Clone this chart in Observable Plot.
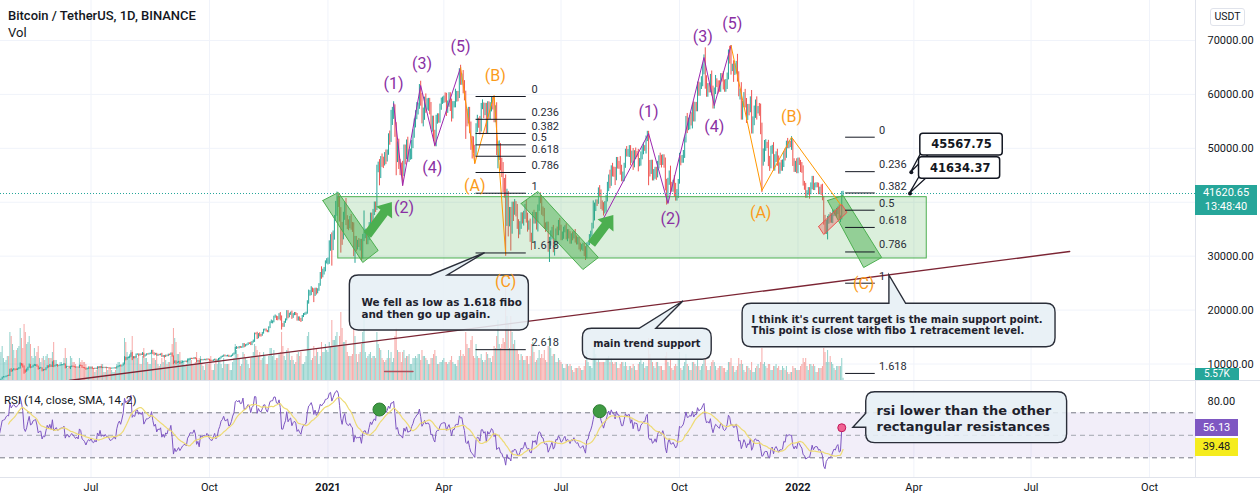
<!DOCTYPE html>
<html>
<head>
<meta charset="utf-8">
<script src="https://cdn.jsdelivr.net/npm/d3@7"></script>
<script src="https://cdn.jsdelivr.net/npm/@observablehq/plot@0.6"></script>
<style>
  html, body { margin: 0; padding: 0; background: #fff; }
  #chart { position: relative; width: 1260px; height: 504px; overflow: hidden; background: #fff;
           font-family: Roboto, "Noto Sans", sans-serif; color: #131722; }
  #chart svg { position: absolute; left: 0; }
  .h { position: absolute; white-space: nowrap; }
  .sep { position: absolute; background: #e0e3eb; }
</style>
</head>
<body>
<div id="chart"></div>
<script>
// ======================= DATA =======================
// Daily BINANCE BTC/USDT candles, first day below (days before the visible range warm up the RSI).
const firstDay = "2020-04-01";
// closes in thousand USDT
const close2020 = [
 6.64,6.81,6.74,6.87,6.78,7.34,7.20,7.37,7.30,6.87,6.91,6.92,6.84,6.87,6.64,7.12,7.10,7.26,7.13,6.84,6.85,7.12,7.48,7.51,7.54,7.69,7.77,7.76,8.78,8.62,
 8.83,8.97,8.91,8.89,9.03,9.15,9.99,9.81,9.54,8.72,8.56,8.81,9.31,9.79,9.31,9.38,9.67,9.73,9.78,9.51,9.06,9.17,9.18,8.72,8.90,8.84,9.20,9.58,9.43,9.70,9.45,
 10.20,9.52,9.67,9.79,9.62,9.67,9.75,9.78,9.78,9.89,9.28,9.47,9.47,9.34,9.43,9.52,9.46,9.38,9.30,9.36,9.28,9.69,9.63,9.29,9.24,9.16,9.01,9.12,9.19,9.14,
 9.23,9.09,9.06,9.13,9.07,9.34,9.25,9.43,9.24,9.29,9.24,9.30,9.24,9.25,9.19,9.13,9.15,9.17,9.21,9.16,9.39,9.53,9.61,9.55,9.71,9.93,11.03,10.91,11.10,11.11,11.35,
 11.80,11.07,11.23,11.19,11.74,11.76,11.60,11.75,11.68,11.88,11.41,11.58,11.78,11.77,11.86,11.91,12.29,11.97,11.74,11.86,11.52,11.68,11.65,11.75,11.33,11.47,11.32,11.53,11.48,11.71,11.66,
 11.92,11.39,10.17,10.47,10.17,10.26,10.38,10.13,10.23,10.35,10.40,10.44,10.33,10.68,10.79,10.95,10.94,10.93,11.08,10.92,10.42,10.54,10.24,10.74,10.69,10.73,10.77,10.70,10.84,10.78,
 10.62,10.57,10.55,10.67,10.79,10.60,10.67,10.92,11.06,11.30,11.38,11.55,11.43,11.43,11.51,11.32,11.36,11.50,11.75,11.92,12.82,12.97,12.93,13.12,13.03,13.07,13.65,13.28,13.46,13.56,13.80,
 13.76,13.55,14.02,14.15,15.59,15.58,14.83,15.48,15.33,15.30,15.70,16.28,16.32,16.07,15.96,16.73,17.66,17.80,17.82,18.68,18.71,18.42,18.37,19.15,18.73,17.15,17.14,17.72,18.18,19.70,
 18.76,19.21,19.42,18.65,19.15,19.36,19.17,18.32,18.55,18.26,18.06,18.80,19.17,19.27,19.43,21.31,22.80,23.14,23.86,23.48,22.75,23.82,23.25,23.72,24.66,26.44,26.25,27.04,27.36,28.84,28.95];
const close2021 = [
 29.37,32.20,33.00,31.99,33.99,36.82,39.37,40.67,40.24,38.24,35.54,34.05,37.39,39.14,36.77,36.02,35.79,36.63,35.89,35.47,30.83,33.00,32.10,32.29,32.25,32.47,30.36,33.37,34.27,34.32,33.11,
 33.54,35.51,37.62,36.94,38.29,39.26,38.87,46.40,46.51,44.84,47.99,47.41,47.19,48.72,47.94,49.20,52.17,51.61,55.92,55.92,57.49,54.21,48.82,49.71,47.02,46.34,46.20,45.24,
 49.62,48.38,50.54,48.37,48.76,48.88,50.97,52.39,54.88,55.86,57.33,57.81,61.22,59.00,55.65,56.90,58.91,57.65,58.03,58.10,57.35,54.08,54.34,52.30,51.31,55.03,55.85,55.78,57.63,58.73,58.92,
 59.10,59.03,57.06,58.20,59.13,57.99,56.00,58.08,58.09,59.77,59.96,59.83,63.50,62.95,63.16,61.33,60.00,56.15,55.66,56.47,53.80,51.70,51.09,50.05,49.00,54.02,55.03,54.82,53.56,57.75,
 57.83,56.63,57.20,53.24,57.49,56.46,57.33,58.86,58.28,55.86,56.75,49.15,49.72,49.88,46.76,46.43,43.54,42.91,37.00,40.78,37.30,37.53,34.77,38.85,38.35,39.32,38.44,35.69,34.62,35.68,37.29,
 36.69,37.57,39.19,36.87,35.52,35.80,33.58,33.38,37.39,36.69,37.34,35.55,39.10,40.52,40.14,38.35,38.09,35.82,35.48,35.60,31.68,32.51,33.68,34.66,31.59,32.28,34.70,34.49,35.91,35.05,
 33.54,33.80,34.67,35.29,33.69,34.23,33.86,32.88,33.81,33.52,34.26,33.09,32.73,32.82,31.78,31.42,31.53,31.78,30.84,29.79,32.14,32.29,33.66,34.29,35.40,37.27,39.46,40.03,40.02,42.24,41.46,
 39.85,39.15,38.21,39.72,40.87,42.83,44.61,43.83,46.29,45.60,45.55,44.43,47.83,47.10,47.05,45.94,44.69,44.71,46.76,49.34,48.87,49.28,49.51,47.71,48.99,46.85,49.07,48.90,48.83,47.05,47.17,
 48.85,49.30,50.00,49.94,51.77,52.63,46.81,46.08,46.40,44.85,45.16,46.02,44.96,47.11,48.14,47.76,47.30,48.31,47.26,42.96,40.69,43.57,44.90,42.84,42.72,43.21,42.24,41.03,41.52,43.79,
 48.12,47.71,48.20,49.11,51.51,55.36,53.81,53.97,54.96,54.69,57.48,56.01,57.37,57.35,61.67,60.88,61.53,62.04,64.28,66.00,62.21,60.69,61.39,60.89,63.08,60.33,58.46,60.59,62.27,61.89,61.30,
 61.00,63.23,62.94,61.44,61.01,61.53,63.33,67.57,66.97,64.88,64.95,64.16,64.40,65.47,63.56,60.16,60.37,56.94,58.12,59.74,58.66,56.30,57.57,57.17,58.96,53.73,54.74,57.27,57.81,56.95,
 57.18,56.51,53.60,49.15,49.40,50.44,50.59,50.47,47.55,47.14,49.39,50.05,46.70,48.34,48.86,47.63,46.13,46.83,46.68,46.91,48.94,48.63,50.82,50.43,50.80,50.64,50.64,47.59,46.46,47.12,46.22];
const close2022 = [
 47.72,47.29,46.43,45.83,43.43,43.08,41.56,41.73,41.87,41.82,42.74,43.92,42.59,43.10,43.18,43.11,42.25,42.37,41.67,40.68,36.48,35.07,36.28,36.65,36.95,36.84,37.14,37.71,38.17,37.92,38.48,
 38.74,36.95,37.08,41.57,41.62];
// upper / lower wick, % beyond the candle body
const wickUp2020 = [
 2,1,2,1,2,1,3,1,1,2,1,1,2,1,2,1,2,1,1,2,1,1,1,2,1,1,1,2,3,4,
 1,2,1,2,1,2,2,1,2,1,2,3,1,2,1,1,1,2,1,1,1,1,2,1,1,1,1,1,1,2,1,
 2,4,1,1,1,1,1,1,1,2,1,1,1,1,1,1,1,1,1,1,1,1,1,1,1,1,1,1,1,1,
 1,1,1,1,1,1,1,1,1,1,1,1,1,1,1,1,1,1,1,1,1,1,1,1,1,1,3,2,1,1,1,
 2,3,1,1,1,1,1,1,1,2,1,1,1,1,1,1,2,2,1,1,1,1,1,1,2,1,1,1,1,1,1,
 1,1,1,1,1,1,1,1,1,1,1,1,1,1,1,1,1,1,1,1,1,1,1,1,1,1,1,1,1,1,
 1,1,1,1,1,1,1,1,1,1,1,1,1,1,1,1,1,1,1,1,2,2,1,1,1,1,1,1,1,1,1,
 1,2,1,2,1,1,2,1,2,1,1,1,1,1,1,1,1,2,1,1,2,1,2,1,2,1,2,1,1,1,
 1,1,1,2,1,1,1,1,1,1,1,1,1,1,1,2,4,2,2,1,2,1,1,1,1,2,6,2,2,1,2];
const wickUp2021 = [
 1,2,3,4,2,2,2,3,2,2,2,2,2,2,4,2,2,2,3,1,2,2,2,2,3,2,2,2,12,2,2,
 2,2,1,1,1,2,2,1,2,3,1,2,2,1,2,1,1,2,2,3,2,1,1,3,4,2,2,3,
 2,2,2,3,2,2,1,2,1,2,2,1,1,2,2,1,1,2,2,2,2,2,3,3,2,2,1,1,1,1,1,
 1,2,2,1,2,2,2,1,1,2,1,1,2,3,1,2,2,1,2,2,2,2,1,2,1,1,2,1,2,1,
 2,1,2,2,2,2,2,1,1,2,2,3,3,3,2,3,2,2,5,4,3,4,4,3,3,3,2,3,3,2,2,
 2,2,1,3,3,2,3,2,2,3,2,2,1,1,3,2,2,2,1,2,2,3,3,2,3,2,1,2,2,3,
 2,2,2,1,2,2,2,2,1,2,1,2,2,2,2,2,2,2,2,3,1,1,1,1,2,8,1,1,1,1,2,
 2,1,2,1,1,2,1,3,1,2,2,2,1,1,1,3,2,2,1,1,2,1,2,2,1,2,1,2,1,2,2,
 1,2,2,1,1,1,1,2,3,3,2,1,1,1,1,2,2,1,1,2,3,2,2,4,2,2,4,3,2,1,
 2,1,1,1,1,1,2,3,2,3,1,2,2,2,1,1,1,2,2,2,4,2,1,1,1,2,2,1,2,1,1,
 2,1,1,2,2,2,1,1,2,3,1,2,2,1,3,1,1,3,1,1,2,1,1,1,1,3,2,1,2,3,
 1,2,3,2,1,2,2,1,2,2,2,1,2,1,1,2,2,1,2,2,1,2,1,2,1,1,3,2,1,1,2];
const wickUp2022 = [
 1,1,1,2,2,1,1,1,2,2,2,2,2,1,1,1,1,1,2,4,1,3,1,2,2,3,2,2,1,1,1,
 1,2,1,1,1];
const wickDn2020 = [
 1,2,1,2,1,1,2,1,2,1,1,2,2,1,1,1,2,1,1,1,2,1,1,1,1,1,1,1,1,2,
 1,1,2,1,1,1,1,2,3,7,3,1,1,1,2,1,1,1,2,1,2,1,1,2,1,1,1,1,2,1,1,
 1,2,1,1,2,1,1,1,1,1,2,1,1,2,4,1,1,1,1,1,1,1,1,1,1,1,2,1,1,1,
 1,1,1,1,1,1,1,1,1,1,1,1,1,1,1,1,1,1,1,1,1,1,1,1,1,1,1,3,2,1,1,
 1,4,1,2,1,1,2,1,1,1,3,1,1,1,1,1,1,2,2,1,1,1,1,1,1,1,2,1,1,1,1,
 1,1,3,1,3,1,1,2,1,1,1,1,1,1,1,1,1,1,1,1,2,1,1,1,1,1,1,1,1,1,
 1,1,1,1,1,1,1,1,1,1,1,1,1,1,1,1,1,1,1,1,1,1,1,1,1,1,1,2,1,1,1,
 1,1,1,1,1,1,2,1,2,2,1,1,1,1,1,1,1,1,2,1,1,2,2,1,4,5,2,2,1,1,
 2,1,1,2,1,1,1,2,2,2,2,1,1,1,1,1,1,1,2,1,6,1,2,1,1,1,2,1,2,1,1];
const wickDn2021 = [
 2,3,4,12,3,3,1,5,3,5,14,6,3,2,3,3,3,2,3,3,3,7,4,3,2,4,4,3,2,3,3,
 3,2,1,2,3,2,2,1,2,4,1,2,2,1,2,1,1,2,1,3,1,4,8,3,2,3,3,5,
 1,3,1,2,2,2,2,2,1,2,1,2,1,2,2,3,3,2,1,2,2,1,2,2,2,2,1,2,2,1,1,
 1,1,2,1,1,2,2,1,1,1,2,2,1,2,2,2,2,8,3,2,2,4,6,2,4,1,2,2,2,1,
 1,2,1,1,1,2,2,1,2,2,2,1,6,4,2,4,4,5,19,4,10,5,11,2,5,2,3,2,4,2,2,
 2,3,2,2,3,2,3,7,3,2,2,2,3,2,1,2,2,2,3,2,3,9,2,2,3,5,2,2,2,1,
 2,2,2,1,2,3,2,2,2,2,1,2,2,2,2,2,1,2,3,2,1,1,1,1,2,1,2,3,2,1,1,
 3,2,2,1,4,2,2,3,2,2,2,3,1,2,2,2,2,2,2,1,1,1,2,2,1,2,1,2,1,3,1,
 1,2,1,1,2,1,8,3,2,2,2,2,2,1,2,2,2,1,2,2,3,2,1,3,2,2,3,2,2,2,
 1,2,1,2,2,1,2,1,1,1,2,2,2,1,1,2,2,1,1,1,2,2,2,1,1,1,2,2,1,1,2,
 1,1,1,1,1,1,1,1,2,2,1,3,1,1,2,1,2,3,3,1,2,3,2,2,1,2,2,1,3,3,
 1,1,2,15,5,4,2,1,2,3,2,1,2,2,2,2,2,2,2,2,1,2,1,1,1,1,2,2,2,2,2];
const wickDn2022 = [
 2,1,2,1,1,2,2,2,1,3,1,1,1,1,1,1,2,2,1,1,2,3,3,9,2,2,2,3,1,1,2,
 2,1,2,1,1];
// volume in thousand BTC
const vol2020 = [
 80,75,90,70,55,100,85,75,70,85,50,55,75,60,70,95,70,60,45,65,60,70,85,55,45,50,60,60,120,110,
 90,75,55,75,80,85,130,105,80,140,120,90,95,110,90,60,55,80,60,70,85,55,45,55,60,50,60,65,55,55,55,
 70,95,50,50,40,35,45,45,40,55,80,55,30,30,60,55,45,45,40,30,30,55,45,50,45,45,40,30,35,35,
 35,35,30,20,25,35,35,35,40,40,20,20,30,25,30,30,25,20,20,25,40,45,45,40,35,45,105,95,70,60,65,
 75,110,60,60,60,55,60,40,40,60,80,55,55,45,40,40,65,55,55,50,60,40,35,40,55,45,60,50,40,45,45,
 60,90,130,105,95,65,65,70,50,50,45,35,40,55,55,55,50,40,40,45,70,45,55,60,40,35,25,40,40,40,
 50,60,25,25,40,50,40,55,55,40,30,55,40,40,40,40,25,25,45,55,90,75,65,55,35,40,70,65,55,50,40,
 30,55,60,70,90,85,75,60,70,50,55,70,60,40,40,60,80,80,60,75,50,55,55,65,70,120,85,60,50,75,
 80,70,50,60,50,40,45,65,70,60,70,40,40,45,60,110,120,75,50,55,85,60,80,70,40,60,95,70,70,90,75];
const vol2021 = [
 70,95,85,150,100,100,110,120,85,110,170,130,95,95,100,70,60,60,60,65,130,110,65,45,65,70,90,120,170,70,55,
 60,65,70,55,60,60,55,120,90,80,75,55,50,45,50,55,75,55,70,45,55,110,130,75,70,70,45,70,
 75,55,60,60,65,40,40,55,55,60,55,65,65,50,75,60,60,55,50,40,40,55,55,65,75,60,40,40,45,45,50,
 55,45,45,40,45,50,60,45,40,40,35,50,60,75,60,65,60,120,90,80,80,100,110,60,55,90,60,55,55,65,
 50,45,50,70,65,55,55,45,60,85,80,110,150,90,80,90,105,95,250,160,140,80,160,120,90,100,75,75,65,50,65,
 60,50,50,60,60,40,60,90,95,70,45,50,55,75,55,65,55,75,50,45,85,110,80,60,65,65,45,45,55,50,
 45,40,30,30,40,40,35,40,35,25,20,30,30,30,35,30,25,25,35,50,75,45,35,35,30,80,100,65,45,50,45,
 45,45,45,45,55,55,60,45,55,45,40,45,45,30,30,40,45,45,35,45,35,25,35,35,30,40,35,25,25,40,45,
 55,40,45,30,35,35,105,65,50,45,35,30,45,45,35,35,35,25,25,60,70,45,35,50,30,25,35,40,35,50,
 70,30,25,35,45,65,40,35,25,25,45,45,40,35,50,35,25,35,40,50,60,35,25,25,35,45,50,45,35,25,30,
 35,35,35,30,30,20,25,45,45,55,35,35,20,25,35,55,40,50,40,25,20,35,35,30,25,45,20,20,30,35,
 40,30,45,80,40,45,35,30,40,40,25,25,35,35,40,30,35,25,25,35,30,25,35,20,15,20,20,35,30,30,25];
const vol2022 = [
 25,25,35,40,55,45,55,35,25,40,40,35,40,35,20,20,30,30,30,35,80,70,45,75,45,60,45,40,30,25,35,
 35,35,35,55,5.57];

// scale labels / header values
const priceGrid = [10000, 20000, 30000, 40000, 50000, 60000, 70000];
const priceTickLabels = [10000, 20000, 30000, 50000, 60000, 70000]; // 40000 sits under the last-price badge
const timeTicks = ["2020-07-01","2020-10-01","2021-01-01","2021-04-01","2021-07-01","2021-10-01","2022-01-01","2022-04-01","2022-07-01","2022-10-01"];
const timeTickLabels = ["Jul","Oct","2021","Apr","Jul","Oct","2022","Apr","Jul","Oct"];
const rsiTicks = [80];
const lastPrice = 41620.65, barCountdown = "13:48:40", lastVolumeLabel = "5.57K";
const rsiLast = 56.13, rsiMaLast = 39.48;

// ---- drawings: [date, price] ----
const impulse1 = [["2021-02-21",58300],["2021-02-28",43100],["2021-03-14",61650],["2021-03-25",50500],["2021-04-14",65000]];
const correction1 = [["2021-04-14",65000],["2021-04-25",47200],["2021-05-10",59800],["2021-05-19",30400]];
const impulse2 = [["2021-08-03",36990],["2021-09-07",52750],["2021-09-22",39770],["2021-10-20",66850],["2021-10-28",57950],["2021-11-10",69070]];
const correction2 = [["2021-11-10",69070],["2021-12-04",42180],["2021-12-27",52070],["2022-02-03",39580]];
const impulseLabels = [["(1)","2021-02-21",62000],["(3)","2021-03-15",65700],["(5)","2021-04-14",68900],["(4)","2021-03-23",46400],["(2)","2021-03-01",39000],
                       ["(1)","2021-09-07",56800],["(2)","2021-09-24",37000],["(3)","2021-10-19",70700],["(5)","2021-11-11",73000],["(4)","2021-10-28",54000]];
const correctionLabels = [["(B)","2021-05-11",63500],["(A)","2021-04-25",43100],["(C)","2021-05-19",25300],
                          ["(B)","2021-12-27",55900],["(A)","2021-12-03",38100],["(C)","2022-02-21",24900]];
const fibLevels1 = [0, 0.236, 0.382, 0.5, 0.618, 0.786, 1, 1.618, 2.618];
const fibTool1 = {from: "2021-04-26", to: "2021-06-04", labelAt: "2021-06-08", p0: 59614, p1: 41678};
const fibLevels2 = [0, 0.236, 0.382, 0.5, 0.618, 0.786, 1, 1.618];
const fibTool2 = {from: "2022-02-07", to: "2022-03-02", labelAt: "2022-03-05", p0: 52065, p1: 24986};
const supportZone = {from: "2021-01-09", to: "2022-04-11", top: 40940, bottom: 29570};
const channelBoxes = [
  {id: "a", pts: [["2020-12-28",40325],["2021-01-09",41809],["2021-02-09",31051],["2021-01-28",28826]]},
  {id: "b", pts: [["2021-05-31",39768],["2021-06-13",41994],["2021-07-30",29753],["2021-07-18",27527]]},
  {id: "c", pts: [["2022-01-24",40325],["2022-02-05",41252],["2022-03-07",29753],["2022-02-21",27898]]}];
const pinkChannel = [["2022-01-17",35503],["2022-02-04",39583],["2022-02-08",38099],["2022-01-21",34019]];
const greenArrows = [[["2021-02-01",33833],["2021-02-20",39953]], [["2021-07-25",32164],["2021-08-11",37543]]];
const trendSupport = [["2020-06-14",6940],["2022-07-31",30866]];
const shortLine = [["2021-02-14",8609],["2021-03-08",8609]];
const callouts = [
  {text: "We fell as low as 1.618 fibo\nand then go up again.", side: "top", fs: 10.4, x1: "2021-01-18", x2: "2021-06-06", y1: 16214, y2: 26415,
   tx: "2021-01-27", ty: 20294, ptr: [["2021-03-22",0],["2021-05-03",30551],["2021-04-04",0]]},
  {text: "main trend support", side: "top", fs: 9.8, x1: "2021-07-18", x2: "2021-10-26", y1: 10779, y2: 16529,
   tx: "2021-07-26", ty: 13747, ptr: [["2021-08-31",0],["2021-10-04",21592],["2021-09-13",0]]},
  {text: "I think it's current target is the main support point.\nThis point is close with fibo 1 retracement level.", side: "top", fs: 10,
   x1: "2021-11-19", x2: "2022-07-20", y1: 13116, y2: 21166, tx: "2021-11-26", ty: 17290,
   ptr: [["2022-03-13",0],["2022-03-13",26415],["2022-03-26",0]]}];
const priceTags = [
  {text: "45567.75", x1: "2022-04-06", x2: "2022-06-09", y1: 48671, y2: 52696, tx: "2022-05-08", ty: 50674,
   at: ["2022-03-30", 45567.75], base: [["2022-04-08",49600],["2022-04-16",49600]]},
  {text: "41634.37", x1: "2022-04-05", x2: "2022-06-07", y1: 44350, y2: 48356, tx: "2022-05-07", ty: 46352,
   at: ["2022-03-29", 41634.37], base: [["2022-04-07",45330],["2022-04-15",45330]]}];
const rsiCircles = [["2021-02-10",72.9],["2021-07-31",71.4]];
const rsiNowMark = [["2022-02-04",56.7]];
const rsiCallout = {text: "rsi lower than the other\nrectangular resistances", side: "left", x1: "2022-02-23", x2: "2022-07-29", y1: 43.0, y2: 88.3,
   tx: "2022-03-03", ty: 65.6, ptr: [["2022-02-23",69.1],["2022-02-13",56.7],["2022-02-23",56.7]]};

// ======================= BUILD =======================
const W = 1260, MR = 65;
const xDomain = [new Date("2020-04-21T16:48:00Z"), new Date("2022-11-05T16:48:00Z")];
const priceDomain = [6940, 77419];
const UP = "#26a69a", DOWN = "#ef5350", GRID = "#f0f3fa", TXT = "#131722";
const FONT = "Roboto, sans-serif", NOTE_FONT = "DejaVu Sans, sans-serif";
const D = s => new Date(s + "T00:00:00Z");
const P = arr => arr.map(([d, p]) => ({date: D(d), price: p}));

const closesK = [...close2020, ...close2021, ...close2022];
const upPct = [...wickUp2020, ...wickUp2021, ...wickUp2022];
const dnPct = [...wickDn2020, ...wickDn2021, ...wickDn2022];
const volK = [...vol2020, ...vol2021, ...vol2022];
const t0 = D(firstDay).getTime();
const candles = closesK.map((c, i) => {
  const close = c * 1000, open = (i ? closesK[i - 1] : c) * 1000;
  const top = Math.max(open, close), bot = Math.min(open, close);
  return {date: new Date(t0 + i * 864e5), open, close, high: top * (1 + upPct[i] / 100),
          low: bot * (1 - dnPct[i] / 100), vol: volK[i], up: close >= open};
});

// RSI(14) (Wilder) and its SMA(14)
function wilderRSI(v, n) {
  const out = v.map(() => NaN);
  let g = 0, l = 0;
  for (let i = 1; i <= n; i++) { const d = v[i] - v[i - 1]; if (d > 0) g += d; else l -= d; }
  g /= n; l /= n; out[n] = 100 - 100 / (1 + g / l);
  for (let i = n + 1; i < v.length; i++) {
    const d = v[i] - v[i - 1];
    g = (g * (n - 1) + Math.max(d, 0)) / n; l = (l * (n - 1) + Math.max(-d, 0)) / n;
    out[i] = l === 0 ? 100 : 100 - 100 / (1 + g / l);
  }
  return out;
}
const rsiV = wilderRSI(candles.map(d => d.close), 14);
const rsiSeries = [];
candles.forEach((d, i) => {
  if (isNaN(rsiV[i])) return;
  let ma = NaN;
  if (i >= 27) { let s = 0; for (let k = i - 13; k <= i; k++) s += rsiV[k]; ma = s / 14; }
  rsiSeries.push({date: d.date, rsi: rsiV[i], ma});
});
const rsiMaSeries = rsiSeries.filter(d => !isNaN(d.ma));
const tickDates = timeTicks.map(D);

const chart = document.getElementById("chart");
function place(svg, top) { svg.style.position = "absolute"; svg.style.top = top + "px"; svg.style.left = "0px"; chart.appendChild(svg); return svg; }
const common = {width: W, marginLeft: 0, marginRight: MR, marginTop: 0,
                x: {type: "utc", domain: xDomain, axis: null}, style: {background: "transparent"}};

// --- grid layer of the price pane
const gridPlot = Plot.plot({...common, height: 381, marginBottom: 1, y: {domain: priceDomain, axis: null},
  marks: [
    Plot.ruleX(tickDates, {stroke: GRID}),
    Plot.ruleY(priceGrid, {stroke: GRID}),
    Plot.text(priceTickLabels, {y: d => d, text: d => d.toFixed(2), frameAnchor: "right", textAnchor: "start", dx: 12,
                                fontSize: 11, fill: TXT, fontFamily: FONT})
  ]});
place(gridPlot, 0);

// --- volume layer
const volPlot = Plot.plot({...common, height: 381, marginBottom: 1, y: {domain: [0, 950], axis: null},
  marks: [
    Plot.ruleX(candles, {x: "date", y1: 0, y2: "vol", stroke: d => d.up ? UP : DOWN, strokeOpacity: 0.5,
                         strokeWidth: 1, clip: true})
  ]});
place(volPlot, 0);

// custom marks that use the plot scales
const arrowsMark = (index, {x, y}) => {
  const g = d3.create("svg:g");
  for (const [[d0, p0], [d1, p1]] of greenArrows) {
    const x0 = x(D(d0)), y0 = y(p0), x1 = x(D(d1)), y1 = y(p1);
    const L = Math.hypot(x1 - x0, y1 - y0), ux = (x1 - x0) / L, uy = (y1 - y0) / L, px = -uy, py = ux;
    const sw = 4.5, hw = 10, hl = 13, bx = x1 - ux * hl, by = y1 - uy * hl;
    const pts = [[x0 + px * sw, y0 + py * sw], [bx + px * sw, by + py * sw], [bx + px * hw, by + py * hw], [x1, y1],
                 [bx - px * hw, by - py * hw], [bx - px * sw, by - py * sw], [x0 - px * sw, y0 - py * sw]];
    g.append("path").attr("d", "M" + pts.map(p => p.join(",")).join("L") + "Z").attr("fill", "#4caf50");
  }
  return g.node();
};
function calloutShape(c) {
  return (index, {x, y}) => {
    const X1 = x(D(c.x1)), X2 = x(D(c.x2)), T = y(c.y2), B = y(c.y1), r = 9;
    const [b1, tip, b2] = c.ptr.map(([d, p]) => [x(D(d)), y(p)]);
    let path;
    if (c.side === "top") {
      path = `M${X1 + r},${T} L${b1[0]},${T} L${tip[0]},${tip[1]} L${b2[0]},${T} L${X2 - r},${T} Q${X2},${T} ${X2},${T + r} L${X2},${B - r} Q${X2},${B} ${X2 - r},${B} L${X1 + r},${B} Q${X1},${B} ${X1},${B - r} L${X1},${T + r} Q${X1},${T} ${X1 + r},${T} Z`;
    } else {
      path = `M${X1 + r},${T} L${X2 - r},${T} Q${X2},${T} ${X2},${T + r} L${X2},${B - r} Q${X2},${B} ${X2 - r},${B} L${X1 + r},${B} Q${X1},${B} ${X1},${B - r} L${X1},${b2[1]} L${tip[0]},${tip[1]} L${X1},${b1[1]} L${X1},${T + r} Q${X1},${T} ${X1 + r},${T} Z`;
    }
    const g = d3.create("svg:g");
    g.append("path").attr("d", path).attr("fill", "#e6eff5").attr("fill-opacity", 0.88)
      .attr("stroke", "#2a2e39").attr("stroke-width", 1.4);
    return g.node();
  };
}
const tagShapes = (index, {x, y}) => {
  const g = d3.create("svg:g");
  for (const t of priceTags) {
    const tip = [x(D(t.at[0])), y(t.at[1])];
    const bs = t.base.map(([d, p]) => [x(D(d)), y(p)]);
    g.append("path").attr("d", `M${bs[0]}L${tip}L${bs[1]}Z`).attr("fill", "#fff").attr("stroke", "#131722").attr("stroke-width", 1.3);
    const X1 = x(D(t.x1)), X2 = x(D(t.x2)), T = y(t.y2), B = y(t.y1);
    g.append("rect").attr("x", X1).attr("y", T).attr("width", X2 - X1).attr("height", B - T).attr("rx", 3)
      .attr("fill", "#fff").attr("stroke", "#131722").attr("stroke-width", 1.5);
  }
  return g.node();
};

const fibMarks = (levels, tool) => [
  Plot.ruleY(levels, {y: L => tool.p0 + L * (tool.p1 - tool.p0), x1: () => D(tool.from), x2: () => D(tool.to), stroke: "#131722", strokeWidth: 1}),
  Plot.text(levels, {y: L => tool.p0 + L * (tool.p1 - tool.p0), x: () => D(tool.labelAt), text: L => String(L), textAnchor: "start",
                     dy: -7, fontSize: 11, fill: "#2a2e39", fontFamily: FONT})
];
const channelPts = channelBoxes.flatMap(c => [...c.pts, c.pts[0]].map(([d, p]) => ({id: c.id, date: D(d), price: p})));

// --- main layer: candles and drawings
const mainPlot = Plot.plot({...common, height: 381, marginBottom: 1, y: {domain: priceDomain, axis: null},
  marks: [
    Plot.ruleX(candles, {x: "date", y1: "low", y2: "high", stroke: d => d.up ? UP : DOWN, strokeWidth: 1, clip: true}),
    Plot.ruleY([lastPrice], {stroke: UP, strokeDasharray: "1,2", strokeWidth: 1}),
    Plot.rect([supportZone], {x1: d => D(d.from), x2: d => D(d.to), y1: "bottom", y2: "top", fill: "#4caf50", fillOpacity: 0.2,
                              stroke: "#4caf50", strokeWidth: 1}),
    Plot.line(channelPts, {x: "date", y: "price", z: "id", fill: "#4caf50", fillOpacity: 0.5, stroke: "#4caf50", strokeWidth: 1}),
    Plot.line(P([...pinkChannel, pinkChannel[0]]), {x: "date", y: "price", fill: "#ef5350", fillOpacity: 0.35, stroke: "#ef5350", strokeWidth: 1}),
    Plot.line(P(trendSupport), {x: "date", y: "price", stroke: "#7b2433", strokeWidth: 1.4, clip: true}),
    Plot.line(P(shortLine), {x: "date", y: "price", stroke: "#b0505c", strokeWidth: 1.5}),
    Plot.line(P(impulse1), {x: "date", y: "price", stroke: "#9c27b0", strokeWidth: 1}),
    Plot.line(P(impulse2), {x: "date", y: "price", stroke: "#9c27b0", strokeWidth: 1}),
    Plot.line(P(correction1), {x: "date", y: "price", stroke: "#ff9800", strokeWidth: 1}),
    Plot.line(P(correction2), {x: "date", y: "price", stroke: "#ff9800", strokeWidth: 1}),
    ...fibMarks(fibLevels1, fibTool1),
    ...fibMarks(fibLevels2, fibTool2),
    arrowsMark,
    ...callouts.map(c => calloutShape(c)),
    Plot.text(callouts, {x: d => D(d.tx), y: "ty", text: "text", textAnchor: "start", lineAnchor: "middle", lineHeight: 1.15,
                         fontSize: "fs", fontWeight: "bold", fontFamily: NOTE_FONT, fill: "#1e222d"}),
    tagShapes,
    Plot.dot(priceTags, {x: d => D(d.at[0]), y: d => d.at[1], r: 2, fill: "#131722"}),
    Plot.text(priceTags, {x: d => D(d.tx), y: "ty", text: "text", fontSize: 11.5, fontWeight: "bold", fontFamily: NOTE_FONT, fill: "#131722"}),
    Plot.text(impulseLabels, {x: d => D(d[1]), y: d => d[2], text: d => d[0], fontSize: 16, fill: "#8a2fa3", fontFamily: FONT}),
    Plot.text(correctionLabels, {x: d => D(d[1]), y: d => d[2], text: d => d[0], fontSize: 16, fill: "#fb9b1a", fontFamily: FONT})
  ]});
place(mainPlot, 0);

// --- RSI pane (with the time axis below it)
const rsiPlot = Plot.plot({...common, height: 123, marginBottom: 27, y: {domain: [12.5, 97.8], axis: null},
  marks: [
    Plot.ruleX(tickDates, {stroke: GRID}),
    Plot.rect([{lo: 30, hi: 70}], {x1: () => xDomain[0], x2: () => xDomain[1], y1: "lo", y2: "hi", fill: "#7e57c2", fillOpacity: 0.1}),
    Plot.ruleY([70, 30], {stroke: "#787b86", strokeDasharray: "5,4", strokeWidth: 1}),
    Plot.ruleY([50], {stroke: "#a3a6af", strokeDasharray: "5,4", strokeWidth: 1}),
    Plot.line(rsiSeries, {x: "date", y: "rsi", stroke: "#7e57c2", strokeWidth: 1, clip: true}),
    Plot.line(rsiMaSeries, {x: "date", y: "ma", stroke: "#eedb74", strokeWidth: 1.2, clip: true}),
    Plot.dot(rsiCircles, {x: d => D(d[0]), y: d => d[1], r: 6.5, fill: "#3f9a43", stroke: "#2e7d32", strokeWidth: 1}),
    Plot.dot(rsiNowMark, {x: d => D(d[0]), y: d => d[1], r: 4, fill: "#f06292", stroke: "#c2185b", strokeWidth: 1}),
    calloutShape(rsiCallout),
    Plot.text([rsiCallout], {x: d => D(d.tx), y: "ty", text: "text", textAnchor: "start", lineAnchor: "middle", lineHeight: 1.2,
                             fontSize: 13, fontWeight: "bold", fontFamily: NOTE_FONT, fill: "#1e222d"}),
    Plot.text(rsiTicks, {y: d => d, text: d => d.toFixed(2), frameAnchor: "right", textAnchor: "start", dx: 12, fontSize: 11, fill: TXT, fontFamily: FONT}),
    Plot.text(timeTicks.map((t, i) => ({date: D(t), label: timeTickLabels[i]})).filter(d => !/^\d/.test(d.label)),
              {x: "date", text: "label", frameAnchor: "bottom", dy: 13, fontSize: 11, fill: TXT, fontFamily: FONT}),
    Plot.text(timeTicks.map((t, i) => ({date: D(t), label: timeTickLabels[i]})).filter(d => /^\d/.test(d.label)),
              {x: "date", text: "label", frameAnchor: "bottom", dy: 13, fontSize: 11, fontWeight: "bold", fill: TXT, fontFamily: FONT})
  ]});
place(rsiPlot, 381);

// --- HTML labels (header, scale badges, separators)
function div(cls, css, html) { const e = document.createElement("div"); e.className = cls; e.style.cssText = css; e.innerHTML = html || ""; chart.appendChild(e); return e; }
div("sep", "left:1195px;top:0;width:1px;height:477px;");
div("sep", "left:0;top:380px;width:1260px;height:1px;");
div("sep", "left:0;top:477px;width:1260px;height:1px;");
div("h", "left:8px;top:8px;font-size:13px;font-weight:500;", "Bitcoin / TetherUS, 1D, BINANCE");
div("h", "left:8px;top:25px;font-size:13px;", "Vol");
div("h", "left:1210px;top:8px;width:33px;height:16px;border:1px solid #e0e3eb;border-radius:3px;font-size:10.5px;text-align:center;line-height:16px;", "USDT");
const yPrice = mainPlot.scale("y").apply(lastPrice);
div("h", `left:1195px;top:${yPrice - 8.5}px;width:62px;height:30px;background:${UP};color:#fff;font-size:11px;text-align:center;line-height:14.5px;padding-top:1px;box-sizing:border-box;`,
    `${lastPrice.toFixed(2)}<br>${barCountdown}`);
div("h", `left:1195px;top:368px;width:44px;height:12px;background:${UP};color:#fff;font-size:10px;text-align:center;line-height:12px;`, lastVolumeLabel);
div("h", "left:4px;top:393px;font-size:11.5px;", "RSI (14, close, SMA, 14, 2)");
const ry = v => 381 + rsiPlot.scale("y").apply(v);
div("h", `left:1195px;top:${ry(rsiLast) - 8.5}px;width:43px;height:17px;background:#7e57c2;color:#fff;font-size:11px;text-align:center;line-height:17px;`, rsiLast.toFixed(2));
div("h", `left:1195px;top:${ry(rsiMaLast) - 9}px;width:43px;height:18px;background:#f5ec1e;color:#131722;font-size:11px;text-align:center;line-height:18px;`, rsiMaLast.toFixed(2));
</script>
</body>
</html>
